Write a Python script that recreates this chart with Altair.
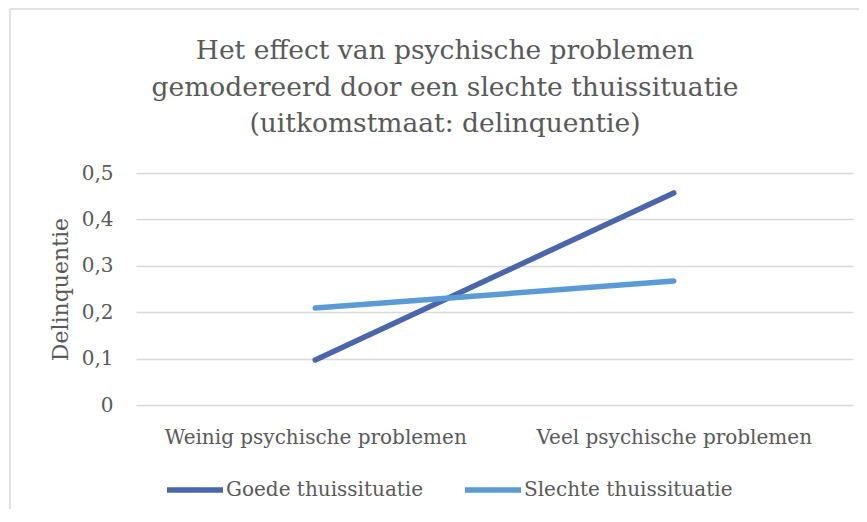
import altair as alt
import pandas as pd

categories = ["Weinig psychische problemen", "Veel psychische problemen"]
series_names = ["Goede thuissituatie", "Slechte thuissituatie"]
goede = [0.097, 0.457]
slechte = [0.209, 0.267]
y_ticks = [0, 0.1, 0.2, 0.3, 0.4, 0.5]
title_lines = [
    "Het effect van psychische problemen",
    "gemodereerd door een slechte thuissituatie",
    "(uitkomstmaat: delinquentie)",
]
colors = ["#4A67AE", "#5B9BD5"]

rows = []
for name, vals in zip(series_names, [goede, slechte]):
    for c, v in zip(categories, vals):
        rows.append({"categorie": c, "reeks": name, "waarde": v})
df = pd.DataFrame(rows)

FONT = "DejaVu Serif"
TEXT = "#595959"
GRID = "#D9D9D9"
W, H = 717, 232
PAD = {"left": 128, "top": 165, "right": 6, "bottom": 104}

lines = alt.Chart(df).mark_line(strokeWidth=5.5, strokeCap="round").encode(
    x=alt.X(
        "categorie:N",
        sort=categories,
        scale=alt.Scale(type="point", padding=0.5),
        axis=alt.Axis(
            title=None, labelAngle=0, labelFontSize=20, labelFont=FONT,
            labelColor=TEXT, ticks=False, domain=False, grid=False,
            labelPadding=38, labelBaseline="alphabetic", labelLimit=400,
        ),
    ),
    y=alt.Y(
        "waarde:Q",
        scale=alt.Scale(domain=[0, 0.5]),
        axis=alt.Axis(
            values=y_ticks, title="Delinquentie", titleFont=FONT,
            titleFontSize=22, titleFontWeight="normal", titleColor=TEXT,
            titleX=-76, titleY=H / 2, titleBaseline="middle", titleAlign="center",
            labelFont=FONT, labelFontSize=20, labelColor=TEXT, labelPadding=23,
            labelExpr="datum.value == 0 ? '0' : replace(format(datum.value, '.1f'), '.', ',')",
            ticks=False, domain=False, grid=True, gridColor=GRID, gridWidth=1.3,
        ),
    ),
    color=alt.Color(
        "reeks:N",
        sort=series_names,
        scale=alt.Scale(domain=series_names, range=colors),
        legend=alt.Legend(
            title=None, orient="none", legendX=28, legendY=286,
            direction="horizontal", symbolType="stroke", symbolSize=3136,
            symbolStrokeWidth=5.5, labelFontSize=20, labelFont=FONT,
            labelColor=TEXT, labelOffset=0, columnPadding=30, padding=0,
            labelLimit=400,
        ),
    ),
)

title = alt.Chart(alt.Data(values=[{}])).mark_text(
    text=title_lines, font=FONT, fontSize=26.5, color=TEXT, lineHeight=36.5,
    align="center", baseline="alphabetic",
).encode(x=alt.value(445 - 136), y=alt.value(59 - 173))

border_left = alt.Chart(alt.Data(values=[{}])).mark_rule(color=GRID, strokeWidth=1.5).encode(
    x=alt.value(-126), y=alt.value(-164), y2=alt.value(H + PAD["bottom"])
)
border_top = alt.Chart(alt.Data(values=[{}])).mark_rule(color=GRID, strokeWidth=1.5).encode(
    x=alt.value(-126), x2=alt.value(W + PAD["right"]), y=alt.value(-164), y2=alt.value(-164)
)

chart = alt.layer(border_left, border_top, title, lines).properties(
    width=W,
    height=H,
    padding=PAD,
    autosize=alt.AutoSizeParams(type="none"),
    background="white",
).configure_view(stroke=None)

chart.save("out.html", embed_options={"renderer": "svg", "actions": False})
